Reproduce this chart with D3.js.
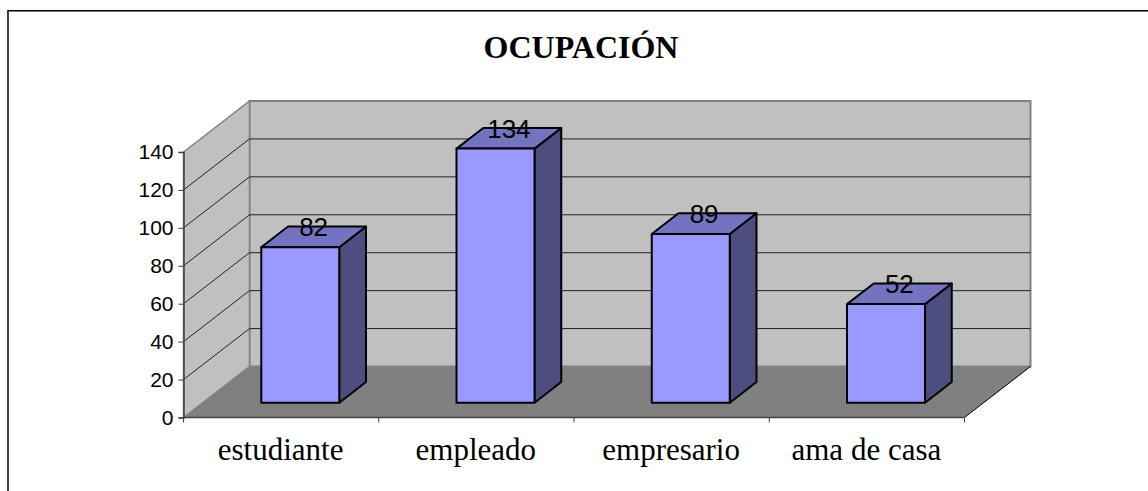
<!DOCTYPE html>
<html>
<head>
<meta charset="utf-8">
<title>Ocupación</title>
<script src="https://d3js.org/d3.v7.min.js"></script>
<style>
    html, body { margin: 0; padding: 0; background: #fff; }
    svg { display: block; }
    .tick-label { font-family: "Liberation Sans", Arial, sans-serif; font-size: 21px; fill: #000; }
    .value-label { font-family: "Liberation Sans", Arial, sans-serif; font-size: 26px; fill: #000; text-anchor: middle; }
    .cat-label { font-family: "Liberation Serif", "Times New Roman", serif; font-size: 31px; fill: #000; text-anchor: middle; }
    .title { font-family: "Liberation Serif", "Times New Roman", serif; font-size: 32px; font-weight: bold; fill: #000; text-anchor: middle; }
</style>
</head>
<body>
<div id="chart"></div>
<script>
// values
const categories = ["estudiante", "empleado", "empresario", "ama de casa"];
const values = [82, 134, 89, 52];
const yTicks = [0, 20, 40, 60, 80, 100, 120, 140];
const titleText = "OCUPACIÓN";

const width = 1148, height = 491;

const svg = d3.select("#chart").append("svg")
    .attr("width", width)
    .attr("height", height);

// outer frame, only left and top show in the crop
svg.append("path")
    .attr("d", "M8,491V10.75H1148")
    .attr("fill", "none")
    .attr("stroke", "#000")
    .attr("stroke-width", 1.5);

const x = d3.scaleBand().domain(categories).range([183.5, 964.5]);
const y = d3.scaleLinear().domain([0, 140]).range([417.5, 152]);
// depth axis: 0 is the front edge of the floor, 1 the back wall
const depthX = d3.scaleLinear().domain([0, 1]).range([0, 66]);
const depthY = d3.scaleLinear().domain([0, 1]).range([0, -51]);

// project a point in the 3d box to the page
function px(xv, d) { return xv + depthX(d); }
function py(v, d) { return y(v) + depthY(d); }
const poly = pts => "M" + pts.map(p => p.join(",")).join("L") + "Z";

const xL = x.range()[0], xR = x.range()[1];
const yMax = yTicks[yTicks.length - 1];

// back wall
svg.append("path")
    .attr("d", poly([[px(xL, 1), py(0, 1)], [px(xL, 1), py(yMax, 1)], [px(xR, 1), py(yMax, 1)], [px(xR, 1), py(0, 1)]]))
    .attr("fill", "#c0c0c0").attr("stroke", "#808080").attr("stroke-width", 2);

// side wall
svg.append("path")
    .attr("d", poly([[px(xL, 0), py(0, 0)], [px(xL, 0), py(yMax, 0)], [px(xL, 1), py(yMax, 1)], [px(xL, 1), py(0, 1)]]))
    .attr("fill", "#c0c0c0").attr("stroke", "#808080").attr("stroke-width", 1.5);

// floor
svg.append("path")
    .attr("d", poly([[px(xL, 0), py(0, 0)], [px(xL, 1), py(0, 1)], [px(xR, 1), py(0, 1)], [px(xR, 0), py(0, 0)]]))
    .attr("fill", "#808080");
svg.append("path")
    .attr("d", `M${px(xR, 1)},${py(0, 1)}L${px(xR, 0)},${py(0, 0)}`)
    .attr("stroke", "#000").attr("fill", "none");

// gridlines on both walls
const grid = yTicks.filter(t => t > 0 && t < yMax);
svg.append("g").selectAll("path").data(grid).join("path")
    .attr("d", t => `M${px(xL, 0)},${py(t, 0)}L${px(xL, 1)},${py(t, 1)}L${px(xR, 1)},${py(t, 1)}`)
    .attr("fill", "none")
    .attr("stroke", "#222")
    .attr("stroke-width", 1);
svg.append("path")
    .attr("d", `M${px(xL, 1)},${py(yMax, 1)}H${px(xR, 1)}`)
    .attr("stroke", "#808080").attr("stroke-width", 2);

// axes
const yAxis = d3.axisLeft(y).tickValues(yTicks).tickSize(5).tickPadding(5);
const yG = svg.append("g").attr("transform", `translate(${xL},0)`).call(yAxis);
yG.selectAll("text").attr("class", "tick-label").attr("font-family", null).attr("font-size", null);
yG.select(".domain").attr("stroke", "#404040").attr("stroke-width", 1.5);
yG.selectAll("line").attr("stroke", "#404040");

const xEdges = d3.range(categories.length + 1).map(i => xL + i * x.step());
svg.append("line").attr("x1", xL).attr("x2", xR).attr("y1", y(0)).attr("y2", y(0))
    .attr("stroke", "#404040").attr("stroke-width", 1.5);
svg.append("g").selectAll("line").data(xEdges).join("line")
    .attr("x1", d => d).attr("x2", d => d)
    .attr("y1", y(0)).attr("y2", y(0) + 5)
    .attr("stroke", "#404040");

svg.append("g").selectAll("text").data(categories).join("text")
    .attr("class", "cat-label")
    .attr("x", d => x(d) + x.bandwidth() / 2 - 0.5)
    .attr("y", 460)
    .text(d => d);

// bars: fixed depth range inside the box
const barW = 78, d0 = 0.29, d1 = 0.695;
const bars = svg.append("g").selectAll("g")
    .data(categories.map((c, i) => ({ c, v: values[i] })))
    .join("g");

function barX(d) { return x(d.c) + (x.bandwidth() - barW) / 2; }

bars.append("path") // right side
    .attr("d", d => {
        const a = barX(d) + barW;
        return poly([[px(a, d0), py(0, d0)], [px(a, d0), py(d.v, d0)], [px(a, d1), py(d.v, d1)], [px(a, d1), py(0, d1)]]);
    })
    .attr("fill", "#4d4d80");
bars.append("path") // top
    .attr("d", d => {
        const a = barX(d);
        return poly([[px(a, d0), py(d.v, d0)], [px(a, d1), py(d.v, d1)], [px(a + barW, d1), py(d.v, d1)], [px(a + barW, d0), py(d.v, d0)]]);
    })
    .attr("fill", "#7373bf");
bars.append("path") // front
    .attr("d", d => {
        const a = barX(d);
        return poly([[px(a, d0), py(0, d0)], [px(a, d0), py(d.v, d0)], [px(a + barW, d0), py(d.v, d0)], [px(a + barW, d0), py(0, d0)]]);
    })
    .attr("fill", "#9999ff");
bars.selectAll("path")
    .attr("stroke", "#000").attr("stroke-width", 2).attr("stroke-linejoin", "round");

// value labels sit over the top face
bars.append("text")
    .attr("class", "value-label")
    .attr("x", d => barX(d) + 71.5)
    .attr("y", d => py(d.v, d0) - 11)
    .text(d => d.v);

svg.append("text")
    .attr("class", "title")
    .attr("x", 581)
    .attr("y", 58)
    .text(titleText);
</script>
</body>
</html>
